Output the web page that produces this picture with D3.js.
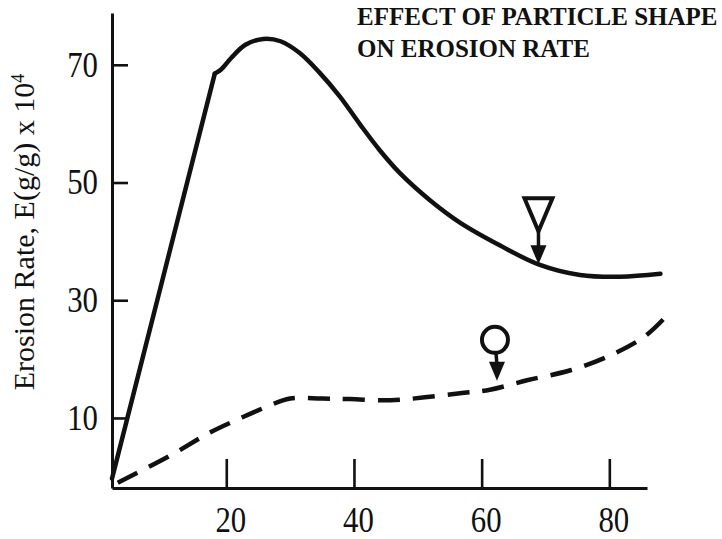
<!DOCTYPE html>
<html>
<head>
<meta charset="utf-8">
<script src="https://cdn.jsdelivr.net/npm/d3@7"></script>
<style>
  html, body { margin: 0; padding: 0; background: #fff; }
  svg { display: block; }
  text { font-family: "Liberation Serif", "Times New Roman", serif; fill: #111; }
</style>
</head>
<body>
<svg id="chart" width="722" height="539"></svg>
<script>
// Erosion rate versus impact angle for two particle shapes
const titleLines = ["EFFECT OF PARTICLE SHAPE", "ON EROSION RATE"];
const yAxisTitle = "Erosion Rate, E(g/g) x 10";
const yAxisExponent = "4";

const xTicks = [20, 40, 60, 80];
const yTicks = [10, 30, 50, 70];

// angular particles (solid line)
const angularX = [2.1, 18.2, 19.2, 20.8, 23.0, 25.8, 28.5, 31.5, 34.5, 37.8, 41.0, 44.1, 47.2, 51.9, 56.6, 62.9, 68.9, 75.4, 81.7, 88.0];
const angularY = [-0.3, 68.5, 69.2, 71.2, 73.4, 74.4, 74.0, 72.0, 68.8, 64.6, 59.8, 55.4, 51.6, 47.0, 43.2, 39.3, 36.1, 34.3, 34.0, 34.5];

// spherical particles (dashed line)
const sphericalX = [3.0, 11.2, 17.4, 22.1, 26.1, 30.0, 35.0, 39.4, 45.7, 51.1, 56.6, 61.3, 67.1, 73.9, 80.1, 85.6, 89.2];
const sphericalY = [-1.0, 3.6, 7.5, 9.9, 11.8, 13.3, 13.3, 13.2, 13.0, 13.5, 14.2, 14.8, 16.4, 18.1, 20.6, 23.9, 27.6];

// where the shape symbols point
const angularMarker = [68.9, 36.1];
const sphericalMarker = [62.4, 16.3];

const svg = d3.select("#chart");
const ink = "#111";

const x = d3.scaleLinear().domain([2.1, 85.9]).range([112, 647]);
const y = d3.scaleLinear().domain([-1.9, 78.8]).range([488, 13]);

// axes
const xAxis = d3.axisBottom(x).tickValues(xTicks).tickSizeInner(-29).tickSizeOuter(0).tickPadding(19);
const yAxis = d3.axisLeft(y).tickValues(yTicks).tickSizeInner(-16).tickSizeOuter(0).tickPadding(16);

const gx = svg.append("g").attr("transform", `translate(0,${y.range()[0]})`).call(xAxis);
const gy = svg.append("g").attr("transform", `translate(${x.range()[0]},0)`).call(yAxis);

[gx, gy].forEach(g => {
  g.select(".domain").attr("stroke", ink).attr("stroke-width", 3);
  g.selectAll(".tick line").attr("stroke", ink).attr("stroke-width", 2.6);
  g.selectAll(".tick text")
    .attr("fill", ink)
    .style("font-family", '"Liberation Serif", "Times New Roman", serif')
    .style("font-size", "35px");
});
gx.selectAll(".tick text").attr("transform", "translate(4,0) scale(0.88,1)");
gy.selectAll(".tick text").attr("transform", "scale(0.88,1)");

// y axis title
const yt = svg.append("text")
  .attr("transform", "translate(34,232) rotate(-90)")
  .attr("text-anchor", "middle")
  .style("font-size", "30px");
yt.append("tspan").text(yAxisTitle);
yt.append("tspan").attr("dy", "-0.55em").style("font-size", "18px").text(yAxisExponent);

// title
titleLines.forEach((t, i) => {
  svg.append("text")
    .attr("x", 357).attr("y", 25 + i * 32)
    .style("font-size", "25px").style("font-weight", "bold")
    .text(t);
});

// curves
const angular = angularX.map((v, i) => [v, angularY[i]]);
const spherical = sphericalX.map((v, i) => [v, sphericalY[i]]);

const straight = d3.line().x(d => x(d[0])).y(d => y(d[1]));
const smooth = d3.line().x(d => x(d[0])).y(d => y(d[1])).curve(d3.curveCatmullRom.alpha(0.5));

// solid: straight rise, then a smooth hump
svg.append("path").attr("d", straight(angular.slice(0, 2)))
  .attr("fill", "none").attr("stroke", ink).attr("stroke-width", 4.5).attr("stroke-linecap", "round");
svg.append("path").attr("d", smooth(angular.slice(1)))
  .attr("fill", "none").attr("stroke", ink).attr("stroke-width", 4.5).attr("stroke-linecap", "round");

svg.append("path").attr("d", smooth(spherical))
  .attr("fill", "none").attr("stroke", ink).attr("stroke-width", 4.5)
  .attr("stroke-dasharray", "22 13").attr("stroke-linecap", "butt");

// shape symbols with arrows
function arrow(g) {
  g.append("path").attr("d", "M-8,-19 L8,-19 L0,0 Z").attr("fill", ink);
}
const m1 = svg.append("g").attr("transform", `translate(${x(angularMarker[0])},${y(angularMarker[1])})`);
m1.append("path").attr("d", "M-14,-66 L14,-66 L0,-33 Z")
  .attr("fill", "none").attr("stroke", ink).attr("stroke-width", 4).attr("stroke-linejoin", "miter");
m1.append("line").attr("x1", 0).attr("y1", -33).attr("x2", 0).attr("y2", -16)
  .attr("stroke", ink).attr("stroke-width", 3.5);
arrow(m1);

const m2 = svg.append("g").attr("transform", `translate(${x(sphericalMarker[0])},${y(sphericalMarker[1])})`);
m2.append("circle").attr("cx", -2).attr("cy", -41).attr("r", 13)
  .attr("fill", "none").attr("stroke", ink).attr("stroke-width", 4);
m2.append("line").attr("x1", -1).attr("y1", -28).attr("x2", 0).attr("y2", -16)
  .attr("stroke", ink).attr("stroke-width", 3.5);
arrow(m2);
</script>
</body>
</html>
